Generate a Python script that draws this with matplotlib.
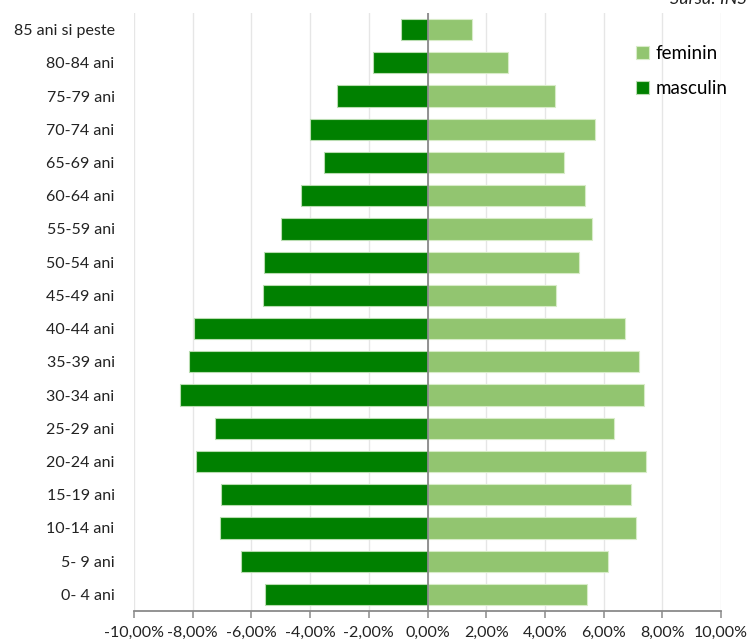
import matplotlib
matplotlib.use("Agg")
import matplotlib.pyplot as plt
from matplotlib.ticker import FuncFormatter

plt.rcParams['font.family'] = ['Lato', 'DejaVu Sans']

# Age groups, top to bottom as drawn
grupe = ["85 ani si peste", "80-84 ani", "75-79 ani", "70-74 ani", "65-69 ani",
         "60-64 ani", "55-59 ani", "50-54 ani", "45-49 ani", "40-44 ani",
         "35-39 ani", "30-34 ani", "25-29 ani", "20-24 ani", "15-19 ani",
         "10-14 ani", "5- 9 ani", "0- 4 ani"]

# Share of population (%), men negative
masculin = [-0.89, -1.87, -3.07, -4.00, -3.53, -4.32, -5.00, -5.56, -5.62,
            -7.96, -8.12, -8.42, -7.23, -7.90, -7.02, -7.07, -6.35, -5.52]
feminin = [1.53, 2.74, 4.35, 5.70, 4.66, 5.38, 5.59, 5.17, 4.39,
           6.73, 7.20, 7.36, 6.37, 7.46, 6.94, 7.09, 6.16, 5.44]

ticks = [-10, -8, -6, -4, -2, 0, 2, 4, 6, 8, 10]

fig = plt.figure(figsize=(7.49, 6.42), dpi=100)
ax = fig.add_axes([134 / 749, 1 - 611 / 642, 587 / 749, 598 / 642])

pos = list(range(len(grupe)))[::-1]
ax.barh(pos, feminin, height=0.64, color='#92C570', edgecolor='#d8ecc8',
        linewidth=0.8, label='feminin', zorder=3)
ax.barh(pos, masculin, height=0.64, color='#008000', edgecolor='#b8dcb0',
        linewidth=0.8, label='masculin', zorder=3)

ax.axvline(0, color='#8a8a8a', lw=1.3, zorder=4)
ax.set_xlim(-10, 10)
ax.set_ylim(-0.5, len(grupe) - 0.5)
ax.set_xticks(ticks)
ax.xaxis.set_major_formatter(FuncFormatter(lambda v, p: f"{v:.2f}%".replace('.', ',')))
ax.set_yticks(pos)
ax.set_yticklabels(grupe)
ax.grid(axis='x', color='#e6e6e6', lw=1, zorder=0)

for s in ['top', 'right', 'left']:
    ax.spines[s].set_visible(False)
ax.spines['bottom'].set_color('#8a8a8a')
ax.spines['bottom'].set_linewidth(1.3)
ax.tick_params(axis='x', colors='#8a8a8a', length=5, width=1.1, labelcolor='#222222',
               labelsize=11.5, pad=6)
ax.tick_params(axis='y', length=0, labelsize=11.5, labelcolor='#222222', pad=14)

ax.legend(loc='upper left', bbox_to_anchor=(0.826, 0.975), frameon=False,
          fontsize=13.5, handlelength=0.7, handleheight=0.7, handletextpad=0.35,
          labelspacing=0.95)

fig.text(0.997, 1 - 4 / 642, "Sursa: INS", ha='right', va='baseline',
         style='italic', fontsize=13, color='#222222')

fig.savefig("out.png", dpi=100)
